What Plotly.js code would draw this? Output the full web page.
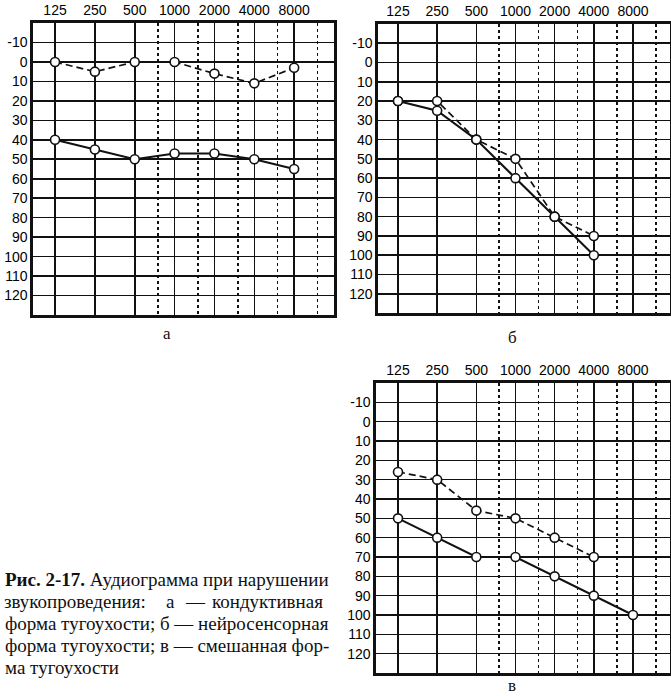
<!DOCTYPE html>
<html><head><meta charset="utf-8">
<script src="https://cdn.plot.ly/plotly-3.0.1.min.js"></script>
<style>html,body{margin:0;padding:0;background:#fff}</style>
</head><body><div id="chart" style="width:671px;height:696px"></div>
<script>
// ---- data ----
const freqs = [125, 250, 500, 1000, 2000, 4000, 8000];
const freqLabels = ['125', '250', '500', '1000', '2000', '4000', '8000'];
const halfOctaves = [750, 1500, 3000, 6000, 12000];
const dbTicks = [-10, 0, 10, 20, 30, 40, 50, 60, 70, 80, 90, 100, 110, 120];
const dbLabels = ['-10', '0', '10', '20', '30', '40', '50', '60', '70', '80', '90', '100', '110', '120'];

// panel а — кондуктивная
const aFreqs = [125, 250, 500, 1000, 2000, 4000, 8000];
const aDashed = [0, 5, 0, 0, 6, 11, 3];
const aSolid = [40, 45, 50, 47, 47, 50, 55];
// panel б — нейросенсорная
const bFreqs = [125, 250, 500, 1000, 2000, 4000];
const bDashed = [20, 20, 40, 50, 80, 90];
const bSolid = [20, 25, 40, 60, 80, 100];
// panel в — смешанная
const cDashedFreqs = [125, 250, 500, 1000, 2000, 4000];
const cDashed = [26, 30, 46, 50, 60, 70];
const cSolidFreqs = [125, 250, 500, 1000, 2000, 4000, 8000];
const cSolid = [50, 60, 70, 70, 80, 90, 100];

const panelLabels = ['а', 'б', 'в'];

// ---- styling ----
const W = 671, H = 696;
const ink = '#111';
const tickFont = {family: 'Liberation Sans, Arial, sans-serif', size: 14, color: '#000'};

function xax(domain, range) {
  return {
    type: 'log', domain: domain, range: range, side: 'top',
    tickmode: 'array', tickvals: freqs, ticktext: freqLabels,
    tickfont: tickFont, ticks: '', ticklabelstandoff: 0,
    showgrid: true, gridcolor: ink, gridwidth: 1.6,
    minor: {tickmode: 'array', tickvals: halfOctaves, showgrid: true, gridcolor: ink, gridwidth: 1.6, griddash: 'dot', ticks: ''},
    showline: true, mirror: true, linecolor: ink, linewidth: 2.6,
    zeroline: false, fixedrange: true
  };
}
function yax(domain, anchor) {
  return {
    domain: domain, range: [130, -20], anchor: anchor,
    tickmode: 'array', tickvals: dbTicks, ticktext: dbLabels,
    tickfont: tickFont, ticks: '', ticklabelstandoff: 0,
    showgrid: true, gridcolor: ink, gridwidth: 1.6,
    showline: true, mirror: true, linecolor: ink, linewidth: 2.6,
    zeroline: false, fixedrange: true
  };
}
const L10 = Math.log10;
const oct = Math.log10(2);

const layout = {
  width: W, height: H, margin: {l: 0, r: 0, t: 0, b: 0},
  paper_bgcolor: '#fff', plot_bgcolor: '#fff', showlegend: false,
  xaxis: Object.assign(xax([33 / W, 334 / W], [L10(125) - 0.553 * oct, L10(16000)]), {anchor: 'y'}),
  yaxis: yax([1 - 315 / H, 1 - 23 / H], 'x'),
  xaxis2: Object.assign(xax([378 / W, 670 / W], [L10(125) - 0.51 * oct, L10(8000) + 0.945 * oct]), {anchor: 'y2'}),
  yaxis2: yax([1 - 313 / H, 1 - 24 / H], 'x2'),
  xaxis3: Object.assign(xax([376 / W, 670 / W], [L10(125) - 0.562 * oct, L10(8000) + 0.945 * oct]), {anchor: 'y3'}),
  yaxis3: yax([1 - 673 / H, 1 - 383 / H], 'x3'),
  annotations: [],
  font: {family: 'Liberation Sans, Arial, sans-serif', color: ink}
};

const serif = 'Liberation Serif, Times New Roman, serif';
const labelPos = [[167, 333], [512, 337], [512, 685]];
panelLabels.forEach((t, i) => layout.annotations.push({
  text: t, xref: 'paper', yref: 'paper', x: labelPos[i][0] / W, y: 1 - labelPos[i][1] / H,
  showarrow: false, font: {family: serif, size: 17, color: ink}, xanchor: 'center', yanchor: 'middle'
}));

const capFont = {family: serif, size: 19, color: ink};
const capLines = [
  {y: 579, parts: [{t: '<b>Рис. 2-17.</b> Аудиограмма при нарушении', x: 3, a: 'left'}]},
  {y: 601, parts: [{t: 'звукопроведения:', x: 2, a: 'left'}, {t: 'а', x: 170, a: 'center'}, {t: '—', x: 195, a: 'center'}, {t: 'кондуктивная', x: 325, a: 'right'}]},
  {y: 623, parts: [{t: 'форма тугоухости; б — нейросенсорная', x: 3, a: 'left'}]},
  {y: 645, parts: [{t: 'форма тугоухости; в — смешанная фор-', x: 3, a: 'left'}]},
  {y: 667, parts: [{t: 'ма тугоухости', x: 3, a: 'left'}]}
];
capLines.forEach(l => l.parts.forEach(p => layout.annotations.push({
  text: p.t, xref: 'paper', yref: 'paper', x: p.x / W, y: 1 - l.y / H,
  xanchor: p.a, yanchor: 'middle', showarrow: false, font: capFont
})));

function tr(x, y, xa, ya, dashed) {
  return {
    x: x, y: y, xaxis: xa, yaxis: ya, type: 'scatter', mode: 'lines+markers',
    line: {color: ink, width: dashed ? 1.7 : 2, dash: dashed ? '7px,4px' : 'solid'},
    marker: {symbol: 'circle', size: 9, color: '#fff', line: {color: ink, width: 1.6}},
    hoverinfo: 'x+y', cliponaxis: false
  };
}
const data = [
  tr(aFreqs, aDashed, 'x', 'y', true),
  tr(aFreqs, aSolid, 'x', 'y', false),
  tr(bFreqs, bDashed, 'x2', 'y2', true),
  tr(bFreqs, bSolid, 'x2', 'y2', false),
  tr(cDashedFreqs, cDashed, 'x3', 'y3', true),
  tr(cSolidFreqs, cSolid, 'x3', 'y3', false)
];
Plotly.newPlot('chart', data, layout, {staticPlot: true, displayModeBar: false});
</script></body></html>
